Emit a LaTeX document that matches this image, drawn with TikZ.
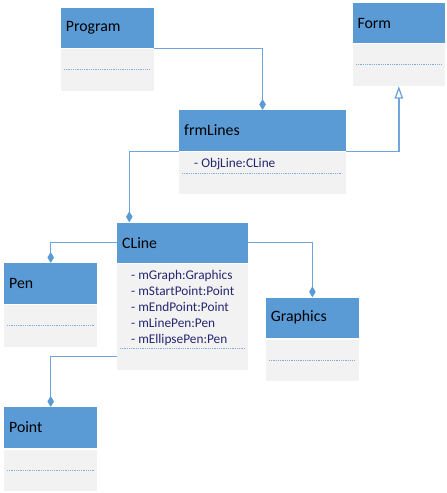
\documentclass[tikz,border=0pt]{standalone}
\usepackage{fontspec}
\setmainfont{Carlito}
\usetikzlibrary{arrows.meta}
\definecolor{hdrblue}{HTML}{5B9BD5}
\definecolor{bodygray}{HTML}{F2F2F2}
\definecolor{linkblue}{HTML}{6FA5DA}
\definecolor{dotblue}{HTML}{7FAEDD}
\definecolor{attrtext}{HTML}{262670}
\tikzset{
  hdr/.style={fill=hdrblue, draw=none, anchor=north west, inner xsep=5pt, inner ysep=0pt,
    minimum height=40.4pt, align=left, font=\fontsize{15.8}{18}\selectfont, text=black},
  bodybox/.style={fill=bodygray, draw=none, anchor=north west, inner sep=0pt},
  attr/.style={anchor=base west, inner sep=0pt, font=\fontsize{13.3}{16}\selectfont, text=attrtext},
  dotline/.style={draw=dotblue, line width=0.9pt, dash pattern=on 1pt off 0.8pt},
  conn/.style={draw=linkblue, line width=1.3pt},
  comp/.style={conn, -{Diamond[length=11pt,width=6.5pt,fill=hdrblue,color=hdrblue]}},
  inherit/.style={conn, -{Triangle[open,length=12.5pt,width=8.5pt,fill=white]}}
}
\begin{document}
\begin{tikzpicture}[x=1pt,y=-1pt]
\useasboundingbox (0,0) rectangle (447,493);
% Program
\node[hdr, text width=82.6pt] (prog) at (60.7,7.3) {Program};
\node[bodybox, minimum width=92.6pt, minimum height=42pt] (progb) at (60.7,48.3) {};
\draw[dotline] (64,69.7) -- (150,69.7);
% Form
\node[hdr, text width=82.7pt] (form) at (352.3,2.7) {Form};
\node[bodybox, minimum width=92.7pt, minimum height=42.4pt] (formb) at (352.3,43.3) {};
\draw[dotline] (356,64.3) -- (442,64.3);
% frmLines
\node[hdr, text width=156.7pt] (frm) at (179,110) {frmLines};
\node[bodybox, minimum width=166.7pt, minimum height=41.6pt] (frmb) at (179,151.7) {};
\node[attr] (frma) at (194,167) {- ObjLine:CLine};
\draw[dotline] (182,173) -- (342,173);
% CLine
\node[hdr, text width=120.7pt] (cline) at (117,222.3) {CLine};
\node[bodybox, minimum width=130.7pt, minimum height=106pt] (clineb) at (117,263.3) {};
\node[attr] (ca1) at (131,279.5) {- mGraph:Graphics};
\node[attr] (ca2) at (131,295.6) {- mStartPoint:Point};
\node[attr] (ca3) at (131,311.7) {- mEndPoint:Point};
\node[attr] (ca4) at (131,327.8) {- mLinePen:Pen};
\node[attr] (ca5) at (131,343.9) {- mEllipsePen:Pen};
\draw[dotline] (120,348.3) -- (245,348.3);
% Pen
\node[hdr, text width=83pt] (pen) at (4,263) {Pen};
\node[bodybox, minimum width=93pt, minimum height=42.4pt] (penb) at (4,304.3) {};
\draw[dotline] (7,325.7) -- (94,325.7);
% Graphics
\node[hdr, text width=83pt] (gfx) at (265.7,297.3) {Graphics};
\node[bodybox, minimum width=93pt, minimum height=41.7pt] (gfxb) at (265.7,339.3) {};
\draw[dotline] (269,360) -- (355,360);
% Point
\node[hdr, text width=83pt] (point) at (4,407) {Point};
\node[bodybox, minimum width=93pt, minimum height=41.4pt] (pointb) at (4,449.3) {};
\draw[dotline] (7,470) -- (94,470);
% connectors
\draw[comp] (progb.north east) -| (frm.north);
\draw[inherit] (frmb.north east) -| (formb.south);
\draw[comp] (frmb.north west) -| ([xshift=12.3pt]cline.north west);
\draw[comp] (cline.west) -| (pen.north);
\draw[comp] (cline.east) -| (gfx.north);
\draw[comp] ([yshift=13pt]clineb.south west) -| (point.north);
\end{tikzpicture}
\end{document}
